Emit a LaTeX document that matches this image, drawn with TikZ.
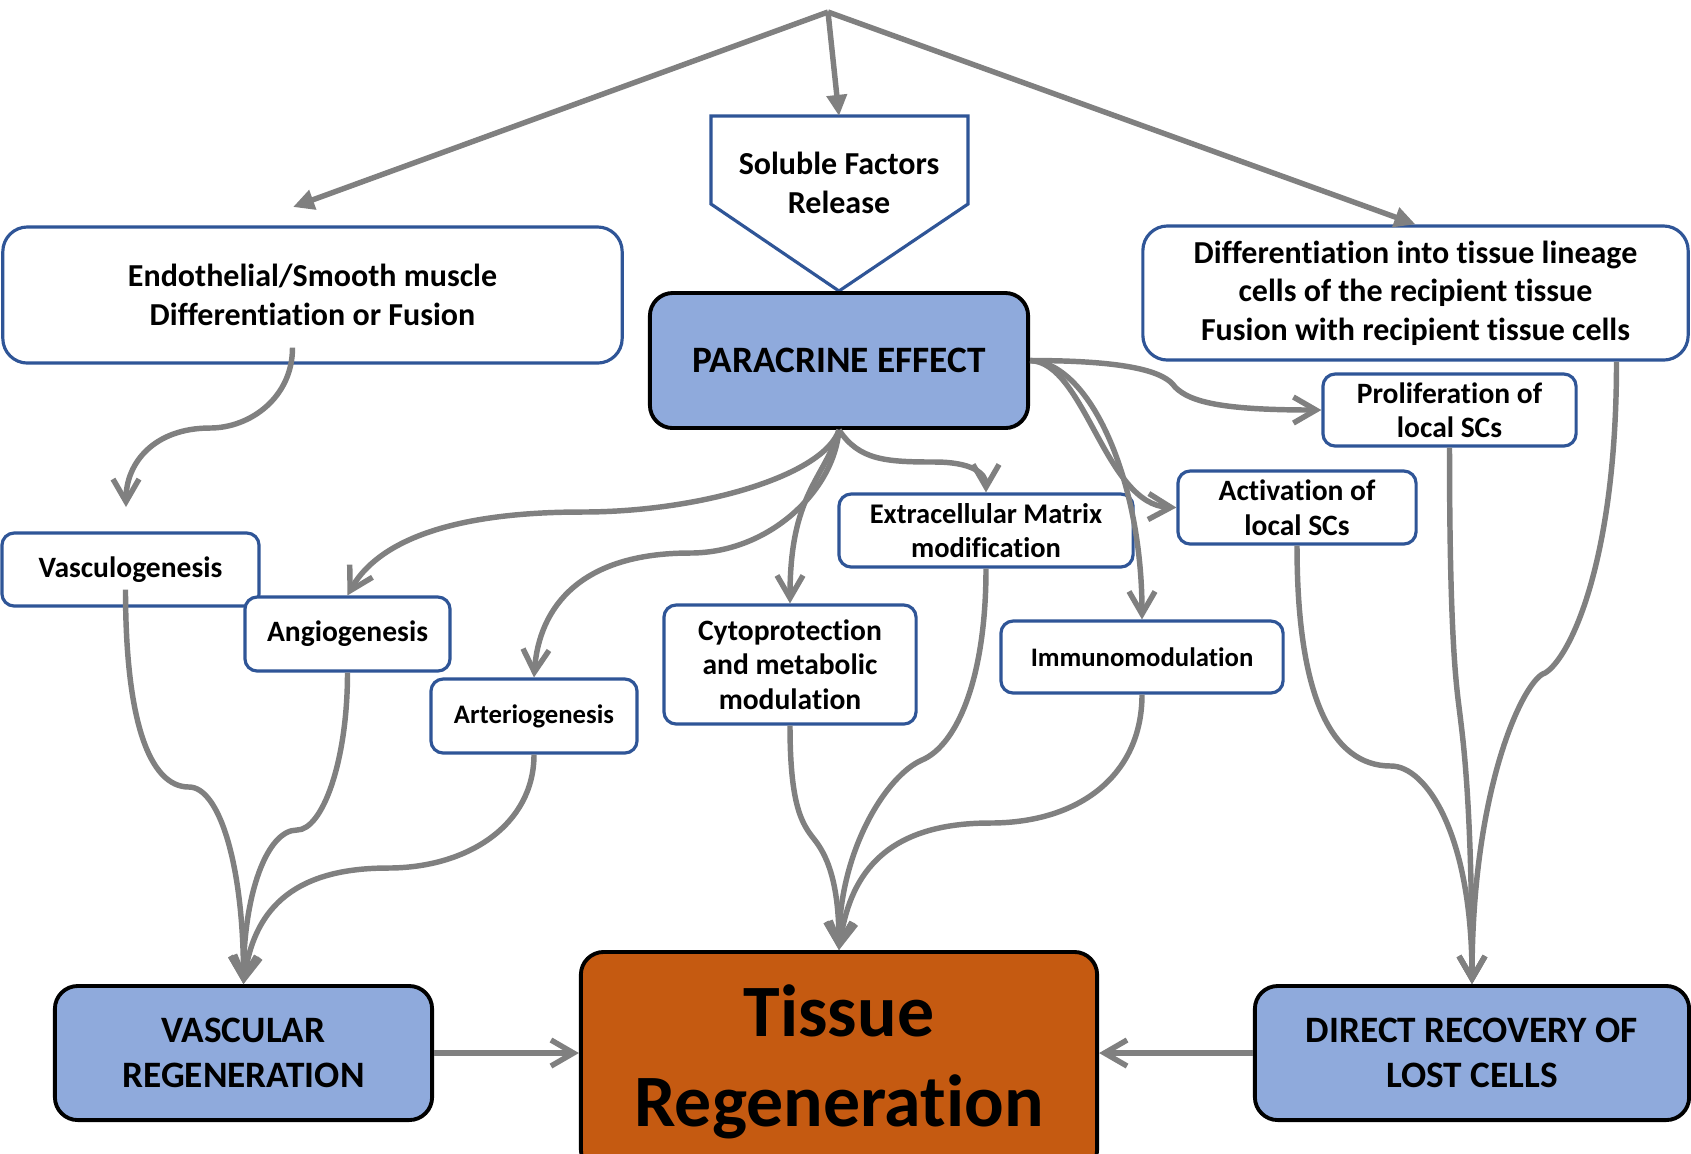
\documentclass[tikz,border=0pt]{standalone}
\usepackage{fontspec}
\setmainfont{Carlito}[Ligatures=NoCommon]
\usetikzlibrary{arrows.meta,calc}

\definecolor{boxblue}{HTML}{2F5597}
\definecolor{fillblue}{HTML}{8FAADC}
\definecolor{tissueorange}{HTML}{C55A11}
\definecolor{linegray}{HTML}{808080}

\begin{document}
\begin{tikzpicture}[x=0.01cm, y=-0.01cm,
  box/.style={rectangle, draw=boxblue, line width=0.9pt, fill=white, rounded corners=3.5pt,
    align=center, inner sep=0pt, font=\fontsize{8.4}{9.8}\selectfont\bfseries},
  bigbox/.style={box, rounded corners=7pt, font=\fontsize{9.1}{11}\selectfont\bfseries},
  effect/.style={rectangle, draw=black, line width=1.1pt, fill=fillblue, rounded corners=6.5pt,
    align=center, inner sep=0pt, font=\fontsize{10.6}{12.8}\selectfont\bfseries},
  arr/.style={-{Straight Barb[length=6.4pt,width=7.4pt]}, line width=1.55pt, linegray},
  tri/.style={-{Triangle[length=6pt,width=5.6pt]}, line width=1.55pt, linegray}
]
\fill[white] (0,0) rectangle (1691,1153);
\useasboundingbox (0,0) rectangle (1691,1153);

% top split
\coordinate (apex) at (828,12);
\coordinate (endotip) at (293,207);
\coordinate (soltop) at (839,116);

% soluble factors
\draw[boxblue, line width=0.9pt] (711,116) -- (968,116) -- (968,204) -- (839,291) -- (711,204) -- cycle;
\node[align=center, font=\fontsize{9.1}{11}\selectfont\bfseries] (sol) at (839,183) {Soluble Factors\\Release};

% boxes
\node[bigbox, minimum width=6.19cm, minimum height=1.36cm] (endo) at (312.5,295) {Endothelial/Smooth muscle\\Differentiation or Fusion};
\node[bigbox, minimum width=5.45cm, minimum height=1.34cm] (diff) at (1415.5,293) {Differentiation into tissue lineage\\cells of the recipient tissue\\Fusion with recipient tissue cells};
\node[effect, minimum width=3.78cm, minimum height=1.35cm] (para) at (839,360.5) {PARACRINE EFFECT};
\node[box, minimum width=2.53cm, minimum height=0.72cm] (prolif) at (1449.5,410) {Proliferation of\\local SCs};
\node[box, minimum width=2.38cm, minimum height=0.73cm] (activ) at (1297,507.5) {Activation of\\local SCs};
\node[box, minimum width=2.57cm, minimum height=0.73cm] (vascg) at (130.5,569.5) {Vasculogenesis};
\node[box, minimum width=2.05cm, minimum height=0.74cm] (angio) at (347.5,634) {Angiogenesis};
\node[box, minimum width=2.06cm, minimum height=0.74cm, font=\fontsize{7.6}{9}\selectfont\bfseries] (arterio) at (534,716) {Arteriogenesis};
\node[box, minimum width=2.94cm, minimum height=0.73cm, font=\fontsize{8.1}{9.8}\selectfont\bfseries] (ecm) at (986,530.5) {Extracellular Matrix\\modification};
\node[box, minimum width=2.52cm, minimum height=1.19cm] (cyto) at (790,664.5) {Cytoprotection\\and metabolic\\modulation};
\node[box, minimum width=2.82cm, minimum height=0.72cm, font=\fontsize{7.6}{9}\selectfont\bfseries] (immuno) at (1142,657) {Immunomodulation};
\node[effect, minimum width=3.77cm, minimum height=1.34cm] (vascreg) at (243.5,1053) {VASCULAR\\REGENERATION};
\node[effect, fill=tissueorange, minimum width=5.16cm, minimum height=2.2cm,
  font=\fontsize{21}{25.5}\selectfont\bfseries] (tissue) at (839,1062) {Tissue\\Regeneration};
\node[effect, minimum width=4.34cm, minimum height=1.34cm] (direct) at (1472,1053) {DIRECT RECOVERY OF\\LOST CELLS};

% top arrows
\draw[tri] (apex) -- (endotip);
\draw[tri] (apex) -- (soltop);
\draw[tri] (apex) -- (diff.north);

% endothelial -> vasculogenesis
\coordinate (vascgtip) at (126,507);
\draw[arr] ($(endo.south)+(-20,-17)$) .. controls +(0,50) and +(40,0) .. (210,428)
  .. controls +(-55,0) and +(0,-45) .. (vascgtip);

% paracrine effect, downwards
\draw[arr] (para.south) .. controls +(-15,45) and +(120,0) .. (582,512)
  .. controls +(-150,0) and +(25,-45) .. (angio.north);
\draw[arr] (para.south) .. controls +(-5,60) and +(80,0) .. (690,553)
  .. controls +(-110,0) and +(5,-70) .. (arterio.north);
\draw[arr] (para.south) .. controls +(-15,50) and +(0,-110) .. (cyto.north);
\draw[arr] (para.south) .. controls +(20,30) and +(-50,0) .. (935,462)
  .. controls +(35,0) and +(0,-20) .. (ecm.north);

% paracrine effect, to the right
\draw[arr] (para.east) .. controls +(100,0) and +(-10,-15) .. (1175,387)
  .. controls +(15,15) and +(-100,0) .. (prolif.west);
\draw[arr] (para.east) .. controls (1085,362) and (1105,505) .. (activ.west);
\draw[arr] (para.east) .. controls (1090,362) and (1142,480) .. (immuno.north);

% to vascular regeneration
\draw[arr] ($(vascg.south)+(-5,-18)$) .. controls +(0,130) and +(-40,0) .. (189,787)
  .. controls +(30,0) and +(0,-120) .. (vascreg.north);
\draw[arr] (angio.south) .. controls +(0,90) and +(25,0) .. (297,830)
  .. controls +(-30,0) and +(0,-90) .. (vascreg.north);
\draw[arr] (arterio.south) .. controls +(0,70) and +(80,0) .. (388,868)
  .. controls +(-100,0) and +(10,-70) .. (vascreg.north);

% to tissue regeneration
\draw[arr] (cyto.south) .. controls +(0,80) and +(-12,-15) .. (814,839)
  .. controls +(12,15) and +(0,-70) .. (tissue.north);
\draw[arr] (ecm.south) .. controls +(0,110) and +(35,-15) .. (922,760)
  .. controls +(-35,15) and +(0,-100) .. (tissue.north);
\draw[arr] (immuno.south) .. controls +(0,80) and +(90,0) .. (990,823)
  .. controls +(-110,0) and +(10,-70) .. (tissue.north);

% to direct recovery
\draw[arr] (activ.south) .. controls +(0,150) and +(-60,0) .. (1391,766)
  .. controls +(35,0) and +(0,-150) .. (direct.north);
\draw[arr] (prolif.south) .. controls +(0,200) and +(-3,-25) .. (1460,715)
  .. controls +(3,25) and +(0,-180) .. (direct.north);
\draw[arr] ($(diff.south)+(201,0)$) .. controls +(0,200) and +(25,-15) .. (1545,673)
  .. controls +(-20,5) and +(0,-200) .. (direct.north);

% bottom row
\draw[arr] (vascreg.east) -- (vascreg.east -| tissue.west);
\draw[arr] (direct.west) -- (direct.west -| tissue.east);

\end{tikzpicture}
\end{document}
